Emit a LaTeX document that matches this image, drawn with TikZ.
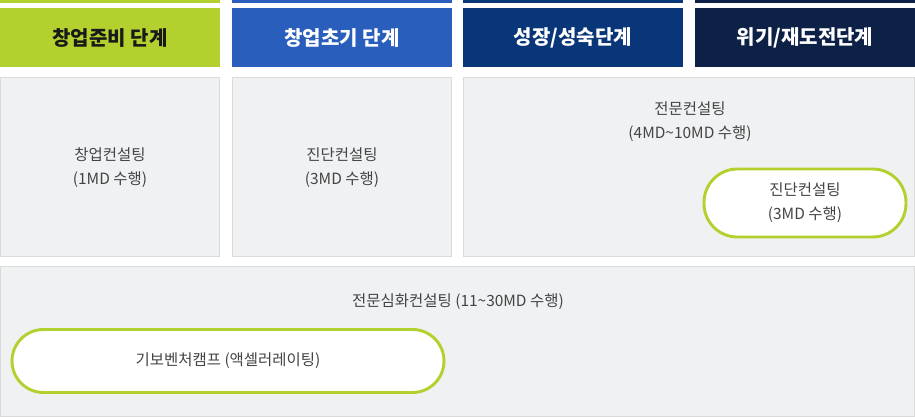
\documentclass[tikz,border=0pt]{standalone}
\usepackage{fontspec}
\setmainfont{Noto Sans CJK KR}
\definecolor{lime}{HTML}{B3D12E}
\definecolor{midblue}{HTML}{2A5EBC}
\definecolor{deepblue}{HTML}{093679}
\definecolor{navy}{HTML}{0D2147}
\definecolor{panel}{HTML}{F0F1F3}
\definecolor{panelline}{HTML}{DADADA}
\definecolor{txt}{HTML}{444444}
\begin{document}
\begin{tikzpicture}[x=0.75pt,y=-0.75pt,
    head/.style={font=\bfseries\fontsize{15}{18}\selectfont},
    body/.style={font=\fontsize{11.6}{18}\selectfont,text=txt,align=center},
    panelbox/.style={fill=panel,draw=panelline,line width=0.75pt},
    pill/.style={body,draw=lime,fill=white,line width=2.2pt,inner sep=0pt}]
    \useasboundingbox (0,0) rectangle (915,417);
    \fill[lime] (0,0) rectangle (220,3);
    \fill[midblue] (232,0) rectangle (452,3);
    \fill[deepblue] (463,0) rectangle (683,3);
    \fill[navy] (695,0) rectangle (915,3);
    \fill[lime] (0,8) rectangle (220,67);
    \fill[midblue] (232,8) rectangle (452,67);
    \fill[deepblue] (463,8) rectangle (683,67);
    \fill[navy] (695,8) rectangle (915,67);
    \node[head,text=black!90] (hdPrep) at (110,38) {창업준비 단계};
    \node[head,text=white] (hdEarly) at (342,38) {창업초기 단계};
    \node[head,text=white] (hdGrow) at (573,38) {성장/성숙단계};
    \node[head,text=white] (hdCrisis) at (805,38) {위기/재도전단계};
    \draw[panelbox] (0.5,77.5) rectangle (219.5,256.5);
    \draw[panelbox] (232.5,77.5) rectangle (451.5,256.5);
    \draw[panelbox] (463.5,77.5) rectangle (914.5,256.5);
    \draw[panelbox] (0.5,266.5) rectangle (914.5,416.5);
    \node[body] (cPrep) at (110,168) {창업컨설팅\\(1MD 수행)};
    \node[body] (cEarly) at (342,168) {진단컨설팅\\(3MD 수행)};
    \node[body] (cGrow) at (690,122) {전문컨설팅\\(4MD\textasciitilde10MD 수행)};
    \node[pill,minimum width=202*0.75pt,minimum height=68*0.75pt,rounded corners=25pt] (cDiag) at (805,203) {진단컨설팅\\(3MD 수행)};
    \node[body] (cDeep) at (458,302) {전문심화컨설팅 (11\textasciitilde30MD 수행)};
    \node[pill,minimum width=432*0.75pt,minimum height=63*0.75pt,rounded corners=23.6pt] (cCamp) at (228,361) {기보벤처캠프 (액셀러레이팅)};
\end{tikzpicture}
\end{document}
